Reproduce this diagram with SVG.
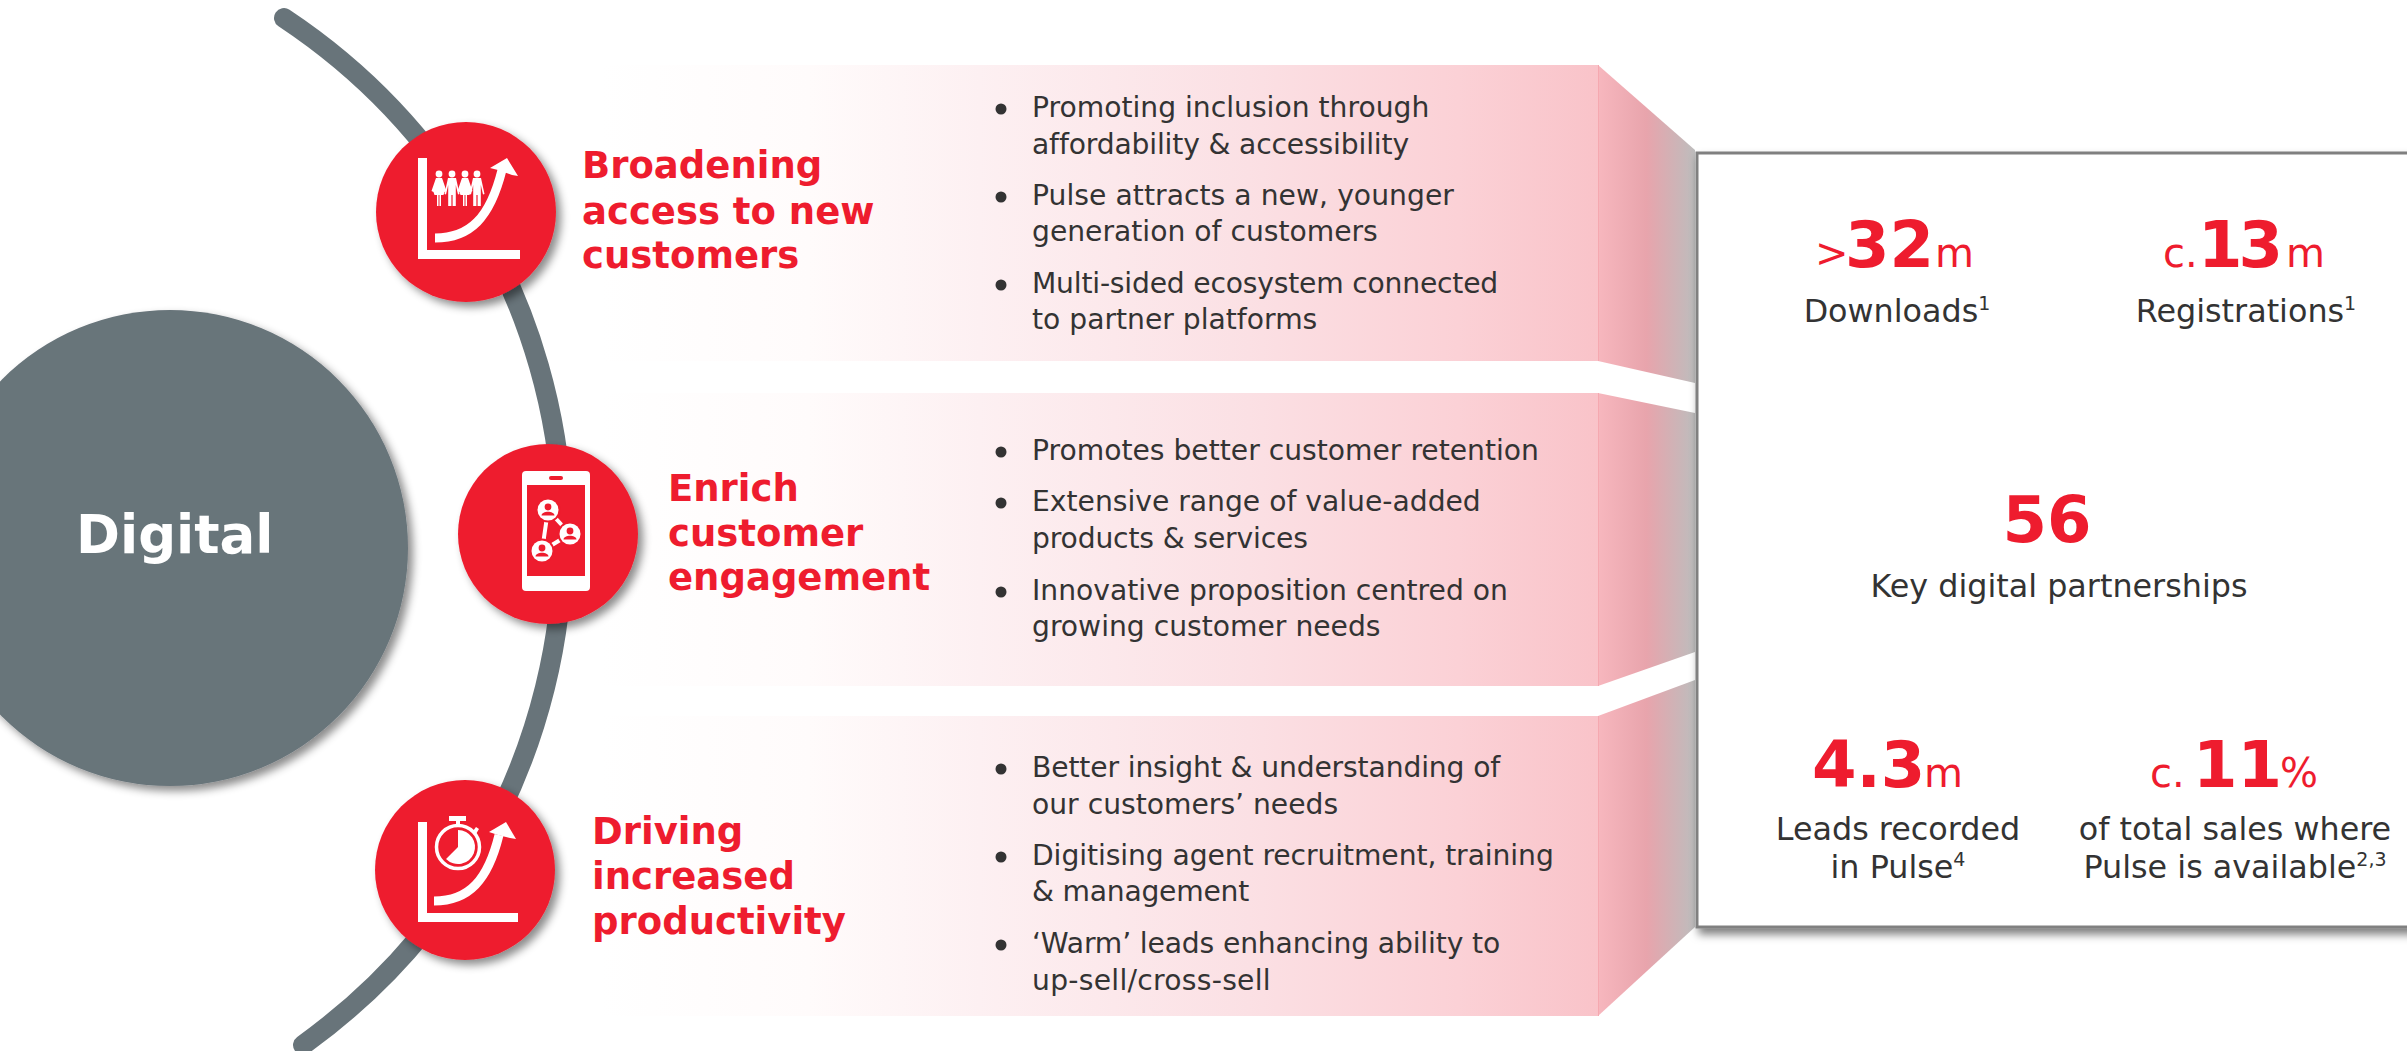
<svg xmlns="http://www.w3.org/2000/svg" width="2407" height="1051" viewBox="0 0 2407 1051">
<style>
text{font-family:"DejaVu Sans","Liberation Sans",sans-serif}
.t{font-size:37px;font-weight:700;fill:#ee1c2e}
.b{font-size:28.2px;fill:#333}
.l{font-size:31.8px;fill:#333;text-anchor:middle}
.n{font-size:64px;font-weight:700;fill:#ee1c2e}
.u{font-size:40px;fill:#ee1c2e}
.s{font-size:19px}
.w{fill:#fff}
.wl{fill:none;stroke:#fff}
.red{fill:#ee1c2e}
.dot{fill:#333}
</style>
<defs>
<linearGradient id="band" gradientUnits="userSpaceOnUse" x1="600" y1="0" x2="1598" y2="0"><stop offset="0" stop-color="#fff"/><stop offset=".21" stop-color="#fffbfb"/><stop offset=".38" stop-color="#fdf0f2"/><stop offset=".65" stop-color="#fbe0e4"/><stop offset=".86" stop-color="#fbd1d6"/><stop offset="1" stop-color="#f9c3c9"/></linearGradient>
<linearGradient id="side"><stop offset="0" stop-color="#f7b7be"/><stop offset=".5" stop-color="#e8a4ac"/><stop offset="1" stop-color="#bdbdbd"/></linearGradient>
<filter id="sh" x="-20%" y="-20%" width="150%" height="150%"><feDropShadow dx="5" dy="5" stdDeviation="4" flood-color="#000" flood-opacity=".45"/></filter>
<filter id="shb" x="-5%" y="-5%" width="110%" height="115%"><feDropShadow dx="3" dy="6" stdDeviation="4" flood-color="#000" flood-opacity=".5"/></filter>
<g id="woman"><circle cx="0" cy="0" r="3.4"/><path d="M-3 4H3L7.5 17L5.5 18L4.5 21H2V32H.5V21H-.5V32H-2V21H-4.5L-5.5 18L-7.5 17Z"/></g>
<g id="man"><circle cx="0" cy="0" r="3.4"/><path d="M-4 4H4L7.5 20L6 20.5L3.8 11V32H.6V21H-.6V32H-3.8V11L-6 20.5L-7.5 20Z"/></g>
<g id="person"><circle cx="0" cy="0" r="12.5" class="red"/><circle cx="0" cy="0" r="10.5" class="w"/><circle cx="0" cy="-3" r="3.4" class="red"/><path d="M-6.5 5.5C-6 .5 6 .5 6.5 5.5Z" class="red"/></g>
</defs>

<g id="panels">
<rect x="600" y="65" width="998" height="296" fill="url(#band)"/>
<rect x="600" y="393" width="998" height="293" fill="url(#band)"/>
<rect x="600" y="716" width="998" height="300" fill="url(#band)"/>
<path d="M1598 65L1695 150V383L1598 361Z" fill="url(#side)"/>
<path d="M1598 393L1695 413V652L1598 686Z" fill="url(#side)"/>
<path d="M1598 716L1695 680V927L1598 1016Z" fill="url(#side)"/>
<path d="M1598.500 65V361M1598.500 393V686M1598.500 716V1016" stroke="#f5a8b0" stroke-width="1" fill="none"/>
</g>

<g id="connectors">
<path d="M284 18A624 624 0 0 1 303 1045" fill="none" stroke="#68747a" stroke-width="20" stroke-linecap="round"/>
</g>

<g id="digital">
<circle cx="170" cy="548" r="238" fill="#68747a" filter="url(#sh)"/>
<text x="76" y="553" font-size="53" font-weight="700" fill="#fff">Digital</text>
</g>

<g id="node-access">
<circle cx="466" cy="212" r="90" class="red" filter="url(#sh)"/>
<path d="M418 158H427V250H520V259H418Z" class="w"/>
<path d="M435 238C470 238 490 218 502 170" class="wl" stroke-width="9"/>
<path d="M507 158L490 168L498 170L512 175L518 176Z" class="w"/>
<use href="#woman" x="439" y="174" class="w"/><use href="#man" x="452" y="174" class="w"/><use href="#woman" x="465" y="174" class="w"/><use href="#man" x="477" y="174" class="w"/>
<text class="t"><tspan x="582" y="178">Broadening</tspan><tspan x="582" y="224">access to new</tspan><tspan x="582" y="268">customers</tspan></text>
</g>

<g id="node-engage">
<circle cx="548" cy="534" r="90" class="red" filter="url(#sh)"/>
<rect x="522" y="471" width="68" height="120" rx="4" class="w"/>
<rect x="527" y="485" width="58" height="91" class="red"/>
<rect x="549" y="476" width="14" height="4" rx="2" class="red"/>
<path d="M548 510L570 534L542 551Z" class="wl" stroke-width="4"/>
<use href="#person" x="548" y="510"/><use href="#person" x="570" y="534"/><use href="#person" x="542" y="551"/>
<text class="t"><tspan x="668" y="501">Enrich</tspan><tspan x="668" y="546">customer</tspan><tspan x="668" y="590">engagement</tspan></text>
</g>

<g id="node-productivity">
<circle cx="465" cy="870" r="90" class="red" filter="url(#sh)"/>
<path d="M418 822H427V913H518V922H418Z" class="w"/>
<path d="M434 901C469 901 488 880 499 835" class="wl" stroke-width="9"/>
<path d="M506 822L489 832L498 835L510 838L516 839Z" class="w"/>
<circle cx="458" cy="847" r="21.500" class="wl" stroke-width="3.500"/>
<rect x="449" y="816" width="17" height="5" class="w"/><rect x="456" y="820" width="4" height="6" class="w"/>
<path d="M473 831L476 827L479 829L476 834Z" class="w"/>
<path d="M458 847L458 830A17 17 0 1 1 446 859Z" class="w"/>
<text class="t"><tspan x="592" y="844">Driving</tspan><tspan x="592" y="889">increased</tspan><tspan x="592" y="934">productivity</tspan></text>
</g>

<g id="bullets-access">
<circle cx="1001" cy="109" r="5.500" class="dot"/><circle cx="1001" cy="197" r="5.500" class="dot"/><circle cx="1001" cy="285" r="5.500" class="dot"/>
<text class="b"><tspan x="1032" y="117">Promoting inclusion through</tspan><tspan x="1032" y="154" letter-spacing="-.16">affordability &amp; accessibility</tspan><tspan x="1032" y="205" letter-spacing=".05">Pulse attracts a new, younger</tspan><tspan x="1032" y="241">generation of customers</tspan><tspan x="1032" y="293" letter-spacing="-.2">Multi-sided ecosystem connected</tspan><tspan x="1032" y="329">to partner platforms</tspan></text>
</g>
<g id="bullets-engage">
<circle cx="1001" cy="452" r="5.500" class="dot"/><circle cx="1001" cy="503" r="5.500" class="dot"/><circle cx="1001" cy="592" r="5.500" class="dot"/>
<text class="b"><tspan x="1032" y="460">Promotes better customer retention</tspan><tspan x="1032" y="511">Extensive range of value-added</tspan><tspan x="1032" y="548" letter-spacing="-.15">products &amp; services</tspan><tspan x="1032" y="600">Innovative proposition centred on</tspan><tspan x="1032" y="636">growing customer needs</tspan></text>
</g>
<g id="bullets-productivity">
<circle cx="1001" cy="769" r="5.500" class="dot"/><circle cx="1001" cy="857" r="5.500" class="dot"/><circle cx="1001" cy="945" r="5.500" class="dot"/>
<text class="b"><tspan x="1032" y="777" letter-spacing="-.14">Better insight &amp; understanding of</tspan><tspan x="1032" y="814">our customers’ needs</tspan><tspan x="1032" y="865" letter-spacing="-.08">Digitising agent recruitment, training</tspan><tspan x="1032" y="901" letter-spacing="-.23">&amp; management</tspan><tspan x="1032" y="953" letter-spacing="-.14">‘Warm’ leads enhancing ability to</tspan><tspan x="1032" y="990" letter-spacing=".27">up-sell/cross-sell</tspan></text>
</g>

<g id="stats">
<rect x="1697" y="153" width="740" height="774" fill="#fff" stroke="#808080" stroke-width="3" filter="url(#shb)"/>
<text y="267"><tspan class="u" x="1815">&gt;</tspan><tspan class="n" x="1845">32</tspan><tspan class="u" x="1935">m</tspan></text>
<text class="l" y="322" x="1897">Downloads<tspan class="s" dy="-12">1</tspan></text>
<text y="267"><tspan class="u" x="2163">c.</tspan><tspan class="n" x="2198" letter-spacing="-4">13</tspan><tspan class="u" x="2286">m</tspan></text>
<text class="l" y="322" x="2246">Registrations<tspan class="s" dy="-12">1</tspan></text>
<text class="n" x="2047" y="542" text-anchor="middle">56</text>
<text class="l" x="2059" y="597">Key digital partnerships</text>
<text y="787"><tspan class="n" x="1812">4.3</tspan><tspan class="u" x="1924">m</tspan></text>
<text class="l" y="840" x="1898">Leads recorded</text>
<text class="l" y="878" x="1898">in Pulse<tspan class="s" dy="-12">4</tspan></text>
<text y="787"><tspan class="u" x="2150">c.</tspan><tspan class="n" x="2193">11</tspan><tspan class="u" x="2280">%</tspan></text>
<text class="l" y="840" x="2235">of total sales where</text>
<text class="l" y="878" x="2235">Pulse is available<tspan class="s" dy="-12">2,3</tspan></text>
</g>
</svg>
